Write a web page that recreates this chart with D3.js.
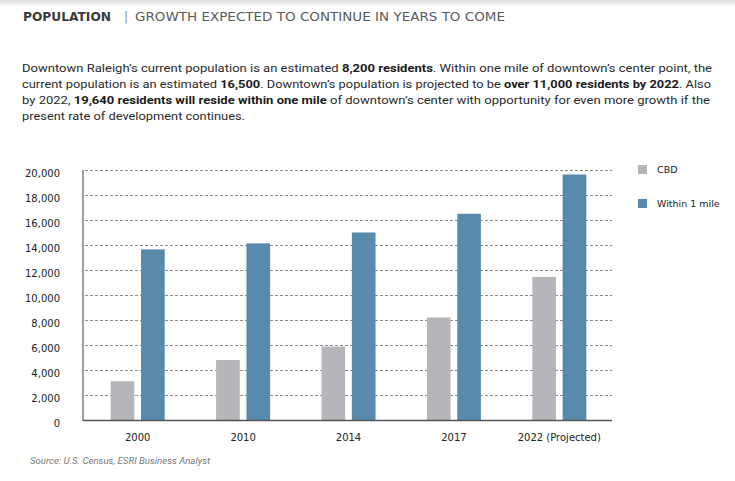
<!DOCTYPE html>
<html>
<head>
<meta charset="utf-8">
<script src="https://cdn.jsdelivr.net/npm/d3@7"></script>
<style>
  html, body { margin: 0; padding: 0; background: #fff; }
  svg { display: block; }
</style>
</head>
<body>
<svg id="chart" width="735" height="481"></svg>
<script>
// ---- data ----
const categories = ["2000", "2010", "2014", "2017", "2022 (Projected)"];
const seriesNames = ["CBD", "Within 1 mile"];
const cbdValues = [3100, 4800, 5870, 8200, 11450];
const withinValues = [13650, 14130, 15000, 16500, 19640];
const yTicks = [0, 2000, 4000, 6000, 8000, 10000, 12000, 14000, 16000, 18000, 20000];
const seriesColors = ["#b6b5ba", "#588aab"];

const titleBold = "POPULATION";
const titleRest = "GROWTH EXPECTED TO CONTINUE IN YEARS TO COME";
const paragraph = [
  [["Downtown Raleigh\u2019s current population is an estimated ", false], ["8,200 residents", true], [". Within one mile of downtown\u2019s center point, the", false]],
  [["current population is an estimated ", false], ["16,500", true], [". Downtown\u2019s population is projected to be ", false], ["over 11,000 residents by 2022", true], [". Also", false]],
  [["by 2022, ", false], ["19,640 residents will reside within one mile", true], [" of downtown\u2019s center with opportunity for even more growth if the", false]],
  [["present rate of development continues.", false]]
];
const sourceText = "Source: U.S. Census, ESRI Business Analyst";

// ---- layout ----
const svg = d3.select("#chart");
const W = 735, H = 481;
const axisX = 83, plotRight = 612, yTop = 170, yBottom = 420;
const labelFont = "'DejaVu Sans', sans-serif";

// top shading strip
const defs = svg.append("defs");
const grad = defs.append("linearGradient").attr("id", "topShade").attr("x1", 0).attr("x2", 0).attr("y1", 0).attr("y2", 1);
grad.append("stop").attr("offset", "0%").attr("stop-color", "#dcdcdc");
grad.append("stop").attr("offset", "100%").attr("stop-color", "#ffffff");
svg.append("rect").attr("x", 0).attr("y", 0).attr("width", W).attr("height", 7).attr("fill", "url(#topShade)");

// title
svg.append("text").attr("x", 23).attr("y", 21).attr("textLength", 88).attr("lengthAdjust", "spacingAndGlyphs")
  .style("font-family", labelFont).style("font-size", "12px").style("font-weight", "bold")
  .attr("fill", "#3a3a3a").text(titleBold);
svg.append("text").attr("x", 124).attr("y", 21)
  .style("font-family", labelFont).style("font-size", "12px")
  .attr("fill", "#8a8a8a").text("|");
svg.append("text").attr("x", 135).attr("y", 21).attr("textLength", 370).attr("lengthAdjust", "spacingAndGlyphs")
  .style("font-family", labelFont).style("font-size", "12px")
  .attr("fill", "#5a5a5a").text(titleRest);

// paragraph
const lineEnds = [712, 711, 710, 245];
paragraph.forEach((parts, i) => {
  const t = svg.append("text").attr("x", 22).attr("y", 72 + i * 16)
    .style("font-family", "Roboto, sans-serif").style("font-size", "11.8px").attr("fill", "#2a2a2a");
  t.attr("textLength", lineEnds[i] - 22).attr("lengthAdjust", "spacingAndGlyphs");
  parts.forEach(([s, b]) => {
    t.append("tspan").text(s).style("font-weight", b ? "bold" : "normal").attr("fill", b ? "#1a1a1a" : "#2a2a2a");
  });
});

// scales
const x0 = d3.scaleBand().domain(categories).range([85, 612]).paddingInner(0).paddingOuter(0);
const groupW = 54;
const x1 = d3.scaleBand().domain(seriesNames).range([0, groupW]).paddingInner(0.22).paddingOuter(0);
const y = d3.scaleLinear().domain([0, 20000]).range([yBottom, yTop]);

// gridlines
svg.append("g").selectAll("line").data(yTicks.filter(d => d > 0)).join("line")
  .attr("x1", axisX + 2).attr("x2", plotRight)
  .attr("y1", d => y(d) + 0.5).attr("y2", d => y(d) + 0.5)
  .attr("stroke", "#8a8a8a").attr("stroke-width", 1).attr("stroke-dasharray", "3,2");

// y axis labels
const yAxis = d3.axisLeft(y).tickValues(yTicks).tickSize(0).tickPadding(0).tickFormat(d3.format(","));
const gy = svg.append("g").attr("transform", `translate(60,0)`).call(yAxis);
gy.select(".domain").remove();
gy.selectAll("text").attr("dy", "0.75em").attr("y", -1.5)
  .style("font-family", labelFont).style("font-size", "10px").style("font-weight", "normal")
  .attr("fill", "#222");

// bars
const valuesBySeries = [cbdValues, withinValues];
const groups = svg.append("g").selectAll("g").data(categories).join("g")
  .attr("transform", d => `translate(${x0(d) + x0.bandwidth() / 2 - groupW / 2},0)`);
groups.selectAll("rect").data((d, i) => seriesNames.map((s, j) => ({ s, v: valuesBySeries[j][i], j }))).join("rect")
  .attr("x", d => x1(d.s)).attr("width", x1.bandwidth())
  .attr("y", d => y(d.v)).attr("height", d => y(0) - y(d.v))
  .attr("fill", d => seriesColors[d.j]);

// axes lines
svg.append("line").attr("x1", axisX).attr("x2", axisX).attr("y1", yTop).attr("y2", yBottom + 1)
  .attr("stroke", "#6a6a6a").attr("stroke-width", 1.3);
svg.append("line").attr("x1", axisX).attr("x2", plotRight).attr("y1", yBottom + 0.5).attr("y2", yBottom + 0.5)
  .attr("stroke", "#555").attr("stroke-width", 1.6);

// x axis labels
const xAxis = d3.axisBottom(x0).tickSize(0).tickPadding(0);
const gx = svg.append("g").attr("transform", `translate(0,${yBottom + 14})`).call(xAxis);
gx.select(".domain").remove();
gx.selectAll("text").attr("dy", "0.71em")
  .style("font-family", labelFont).style("font-size", "10px").style("font-weight", "normal")
  .attr("fill", "#222");

// legend
const legend = svg.append("g").selectAll("g").data(seriesNames).join("g")
  .attr("transform", (d, i) => `translate(638,${165 + i * 34})`);
legend.append("rect").attr("width", 9).attr("height", 9).attr("fill", (d, i) => seriesColors[i]);
legend.append("text").attr("x", 19).attr("y", 4.5).attr("dy", "0.35em").text(d => d)
  .style("font-family", labelFont).style("font-size", "9.5px").style("font-weight", "normal")
  .attr("fill", "#222");

// source
svg.append("text").attr("x", 30).attr("y", 464).text(sourceText)
  .attr("textLength", 180).attr("lengthAdjust", "spacingAndGlyphs")
  .style("font-family", "Roboto, sans-serif").style("font-size", "8.5px").style("font-style", "italic")
  .attr("fill", "#777");
</script>
</body>
</html>
